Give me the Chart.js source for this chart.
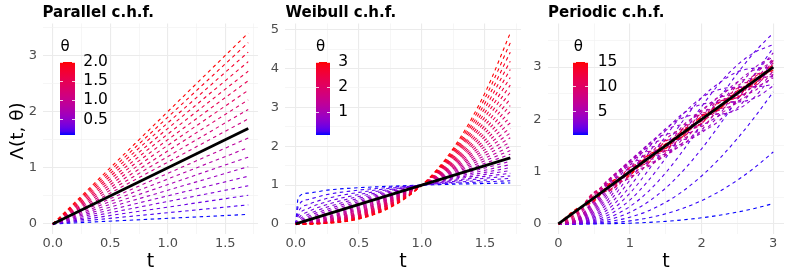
<!DOCTYPE html>
<html>
<head>
<meta charset="utf-8">
<script src="https://cdn.jsdelivr.net/npm/chart.js@4.4.1/dist/chart.umd.min.js"></script>
<style>
  body { margin: 0; background: #fff; }
  #wrap { position: relative; width: 789px; height: 273px; overflow: hidden; font-family: "DejaVu Sans", sans-serif; }
  canvas { position: absolute; top: 0; }
  .txt { position: absolute; line-height: 1; white-space: nowrap; color: #000; }
  .ttl { font-weight: bold; font-size: 15px; top: 5px; }
  .axt { font-size: 19px; top: 250.5px; transform: translateX(-50%); }
  .lgt { font-size: 15px; top: 46px; transform: translateY(-50%); }
  .lgl { font-size: 15.5px; transform: translateY(-50%); }
  .bar { position: absolute; top: 62px; height: 73px; width: 14.5px; }
  .tk { position: absolute; height: 1px; width: 3px; background: #fff; opacity: 0.8; }
</style>
</head>
<body>
<div id="wrap">
  <canvas id="c1" width="263" height="273" style="left:0px"></canvas>
  <canvas id="c2" width="263" height="273" style="left:263px"></canvas>
  <canvas id="c3" width="263" height="273" style="left:526px"></canvas>
</div>
<script>
// ---- Parallel c.h.f. : straight lines, value at t = 0 and t = 1.7
const parallelTheta = [0.1, 0.2, 0.3, 0.4, 0.5, 0.6, 0.7, 0.8, 0.9, 1.0, 1.1, 1.2, 1.3, 1.4, 1.5, 1.6, 1.7, 1.8, 1.9, 2.0];
const parallelT = [0, 1.7];
const parallelValues = [
  [0, 0.17], [0, 0.34], [0, 0.51], [0, 0.68], [0, 0.85], [0, 1.02], [0, 1.19], [0, 1.36], [0, 1.53], [0, 1.70],
  [0, 1.87], [0, 2.04], [0, 2.21], [0, 2.38], [0, 2.55], [0, 2.72], [0, 2.89], [0, 3.06], [0, 3.23], [0, 3.40]
];
const parallelRefT = [0, 1.7];
const parallelRef = [0, 1.7];

// ---- Weibull c.h.f.
const weibullTheta = [0.1, 0.2, 0.3, 0.4, 0.5, 0.6, 0.7, 0.8, 0.9, 1.0, 1.1, 1.2, 1.3, 1.4, 1.5,
                      1.6, 1.7, 1.8, 1.9, 2.0, 2.1, 2.2, 2.3, 2.4, 2.5, 2.6, 2.7, 2.8, 2.9, 3.0];
const weibullT = [0, 0.02, 0.1, 0.25, 0.5, 0.75, 1, 1.25, 1.5, 1.7];
const weibullValues = [
  [0, 0.676, 0.794, 0.871, 0.933, 0.972, 1, 1.023, 1.041, 1.055],
  [0, 0.457, 0.631, 0.758, 0.871, 0.944, 1, 1.046, 1.084, 1.112],
  [0, 0.309, 0.501, 0.660, 0.812, 0.917, 1, 1.069, 1.129, 1.172],
  [0, 0.209, 0.398, 0.574, 0.758, 0.891, 1, 1.093, 1.176, 1.236],
  [0, 0.141, 0.316, 0.500, 0.707, 0.866, 1, 1.118, 1.225, 1.304],
  [0, 0.096, 0.251, 0.435, 0.660, 0.841, 1, 1.143, 1.275, 1.375],
  [0, 0.065, 0.200, 0.379, 0.616, 0.818, 1, 1.169, 1.328, 1.450],
  [0, 0.044, 0.158, 0.330, 0.574, 0.794, 1, 1.195, 1.383, 1.529],
  [0, 0.030, 0.126, 0.287, 0.536, 0.772, 1, 1.222, 1.440, 1.612],
  [0, 0.020, 0.100, 0.250, 0.500, 0.750, 1, 1.250, 1.500, 1.700],
  [0, 0.014, 0.079, 0.218, 0.467, 0.729, 1, 1.278, 1.562, 1.793],
  [0, 0.009, 0.063, 0.189, 0.435, 0.708, 1, 1.307, 1.627, 1.890],
  [0, 0.006, 0.050, 0.165, 0.406, 0.688, 1, 1.337, 1.694, 1.993],
  [0, 0.004, 0.040, 0.144, 0.379, 0.668, 1, 1.367, 1.764, 2.102],
  [0, 0.003, 0.032, 0.125, 0.354, 0.650, 1, 1.398, 1.837, 2.217],
  [0, 0.002, 0.025, 0.109, 0.330, 0.631, 1, 1.429, 1.913, 2.337],
  [0, 0.001, 0.020, 0.095, 0.308, 0.613, 1, 1.461, 1.992, 2.465],
  [0, 0.001, 0.016, 0.082, 0.287, 0.596, 1, 1.494, 2.074, 2.599],
  [0, 0.001, 0.013, 0.072, 0.268, 0.579, 1, 1.528, 2.160, 2.741],
  [0, 0.000, 0.010, 0.063, 0.250, 0.563, 1, 1.563, 2.250, 2.890],
  [0, 0.000, 0.008, 0.054, 0.233, 0.547, 1, 1.598, 2.343, 3.048],
  [0, 0.000, 0.006, 0.047, 0.218, 0.531, 1, 1.634, 2.440, 3.214],
  [0, 0.000, 0.005, 0.041, 0.203, 0.516, 1, 1.670, 2.541, 3.389],
  [0, 0.000, 0.004, 0.036, 0.189, 0.501, 1, 1.708, 2.646, 3.574],
  [0, 0.000, 0.003, 0.031, 0.177, 0.487, 1, 1.747, 2.756, 3.768],
  [0, 0.000, 0.003, 0.027, 0.165, 0.473, 1, 1.786, 2.870, 3.974],
  [0, 0.000, 0.002, 0.024, 0.154, 0.460, 1, 1.826, 2.988, 4.190],
  [0, 0.000, 0.002, 0.021, 0.144, 0.447, 1, 1.867, 3.112, 4.419],
  [0, 0.000, 0.001, 0.018, 0.134, 0.434, 1, 1.909, 3.241, 4.660],
  [0, 0.000, 0.001, 0.016, 0.125, 0.422, 1, 1.953, 3.375, 4.913]
];
const weibullRefT = [0, 1.7];
const weibullRef = [0, 1.7];

// ---- Periodic c.h.f.
const periodicTheta = [0.3, 0.6, 0.9, 1.2, 1.5, 1.8, 2.1, 2.4, 2.7, 3.0, 3.3, 3.6, 3.9, 4.2, 4.5, 4.8, 5.1, 5.4, 5.7, 6.0,
                       6.9, 7.8, 8.7, 9.6, 10.5, 11.4, 12.3, 13.2, 14.1, 15.0];
const periodicT = [0, 0.25, 0.5, 0.75, 1, 1.25, 1.5, 1.75, 2, 2.25, 2.5, 2.75, 3];
const periodicValues = [
  [0, 0.0002, 0.0019, 0.0063, 0.0149, 0.0291, 0.0501, 0.0793, 0.1179, 0.1671, 0.2279, 0.3014, 0.3889],
  [0, 0.0009, 0.0075, 0.0250, 0.0589, 0.1139, 0.1944, 0.3043, 0.4466, 0.6238, 0.8375, 1.0886, 1.3769],
  [0, 0.0021, 0.0167, 0.0557, 0.1296, 0.2475, 0.4159, 0.6389, 0.9179, 1.2516, 1.6355, 2.0617, 2.5251],
  [0, 0.0037, 0.0295, 0.0972, 0.2233, 0.4188, 0.6885, 1.0307, 1.4371, 1.8939, 2.3824, 2.8815, 3.3688],
  [0, 0.0058, 0.0456, 0.1485, 0.3350, 0.6139, 0.9813, 1.4207, 1.9059, 2.4042, 2.8811, 3.3048, 3.6517],
  [0, 0.0084, 0.0648, 0.2079, 0.4590, 0.8177, 1.2626, 1.7547, 2.2458, 2.6881, 3.0431, 3.2899, 3.4293],
  [0, 0.0113, 0.0869, 0.2738, 0.5890, 1.0148, 1.5040, 1.9921, 2.4150, 2.7012, 2.9090, 2.9817, 2.9920],
  [0, 0.0147, 0.1117, 0.3442, 0.7186, 1.1912, 1.6844, 2.1132, 2.4151, 2.5720, 2.6164, 2.6202, 2.6693],
  [0, 0.0186, 0.1386, 0.4172, 0.8417, 1.3357, 1.7920, 2.1203, 2.2862, 2.3266, 2.3333, 2.4132, 2.6408],
  [0, 0.0228, 0.1675, 0.4906, 0.9530, 1.4405, 1.8258, 2.0363, 2.0931, 2.1000, 2.1873, 2.4426, 2.8626],
  [0, 0.0274, 0.1979, 0.5623, 1.0478, 1.5022, 1.7945, 1.8975, 1.9056, 2.0745, 2.2205, 2.6461, 3.1386],
  [0, 0.0324, 0.2295, 0.6313, 1.1229, 1.5215, 1.7147, 1.7453, 1.7795, 1.9806, 2.3855, 2.8771, 3.2725],
  [0, 0.0377, 0.2618, 0.6949, 1.1764, 1.5030, 1.6076, 1.6178, 1.7440, 2.0949, 2.5819, 2.9971, 3.1954],
  [0, 0.0435, 0.2945, 0.7520, 1.2075, 1.4545, 1.4960, 1.5415, 1.7965, 2.2560, 2.7094, 2.9524, 2.9920],
  [0, 0.0495, 0.3271, 0.8014, 1.2172, 1.3859, 1.4000, 1.5278, 1.9084, 2.3932, 2.7151, 2.7923, 2.8214],
  [0, 0.0558, 0.3593, 0.8422, 1.2075, 1.3082, 1.3346, 1.5720, 2.0363, 2.4544, 2.6118, 2.6267, 2.7988],
  [0, 0.0624, 0.3906, 0.8738, 1.1815, 1.2320, 1.3080, 1.6560, 2.1372, 2.4240, 2.4642, 2.5552, 2.9222],
  [0, 0.0693, 0.4209, 0.8960, 1.1431, 1.1667, 1.3204, 1.7547, 2.1816, 2.3249, 2.3511, 2.6099, 3.0875],
  [0, 0.0764, 0.4496, 0.9089, 1.0966, 1.1191, 1.3654, 1.8417, 2.1613, 2.2051, 2.3257, 2.7442, 3.1726],
  [0, 0.0837, 0.4765, 0.9129, 1.0466, 1.0937, 1.4313, 1.8966, 2.0894, 2.1160, 2.3916, 2.8686, 3.1252],
  [0, 0.1068, 0.5441, 0.8797, 0.9162, 1.1461, 1.6158, 1.8184, 1.8632, 2.2236, 2.6449, 2.7319, 2.8607],
  [0, 0.1309, 0.5882, 0.8038, 0.8720, 1.2910, 1.5977, 1.6367, 1.9862, 2.3736, 2.4224, 2.6840, 3.1265],
  [0, 0.1554, 0.6075, 0.7225, 0.9238, 1.3641, 1.4466, 1.6967, 2.1141, 2.1737, 2.4725, 2.8575, 2.9054],
  [0, 0.1797, 0.6038, 0.6673, 1.0181, 1.3059, 1.3994, 1.8425, 1.9643, 2.2103, 2.5944, 2.6506, 3.0523],
  [0, 0.2030, 0.5818, 0.6548, 1.0838, 1.1995, 1.5040, 1.7935, 1.9203, 2.3450, 2.4144, 2.8038, 2.9920],
  [0, 0.2248, 0.5483, 0.6827, 1.0806, 1.1628, 1.5863, 1.6718, 2.0635, 2.2067, 2.5196, 2.7558, 2.9693],
  [0, 0.2446, 0.5108, 0.7339, 1.0214, 1.2234, 1.5316, 1.7134, 2.0413, 2.2041, 2.5502, 2.6956, 3.0583],
  [0, 0.2620, 0.4764, 0.7847, 0.9552, 1.3039, 1.4383, 1.8178, 1.9277, 2.3249, 2.4242, 2.8246, 2.9283],
  [0, 0.2765, 0.4508, 0.8148, 0.9291, 1.3167, 1.4471, 1.7813, 1.9948, 2.2284, 2.5452, 2.6876, 3.0705],
  [0, 0.2881, 0.4375, 0.8145, 0.9567, 1.2566, 1.5325, 1.6901, 2.0659, 2.2018, 2.5132, 2.7765, 2.9433]
];
const periodicRefT = [0, 3];
const periodicRef = [0, 3];

// ---- axis ticks and labels
const xMajorA = [0, 0.5, 1, 1.5];
const xMinorA = [0.25, 0.75, 1.25, 1.75];
const xLabelsA = ["0.0", "0.5", "1.0", "1.5"];
const xMajorC = [0, 1, 2, 3];
const xMinorC = [0.5, 1.5, 2.5];
const xLabelsC = ["0", "1", "2", "3"];
const yMajorParallel = [0, 1, 2, 3];
const yMinorParallel = [0.5, 1.5, 2.5, 3.5];
const yMajorWeibull = [0, 1, 2, 3, 4, 5];
const yMinorWeibull = [0.5, 1.5, 2.5, 3.5, 4.5];
const yMajorPeriodic = [0, 1, 2, 3];
const yMinorPeriodic = [0.5, 1.5, 2.5, 3.5];

// ---- legend (colour bar) labels
const parallelLegend = [0.5, 1.0, 1.5, 2.0];
const parallelLegendText = ["0.5", "1.0", "1.5", "2.0"];
const weibullLegend = [1, 2, 3];
const weibullLegendText = ["1", "2", "3"];
const periodicLegend = [5, 10, 15];
const periodicLegendText = ["5", "10", "15"];

// blue -> red gradient, interpolated in CIE Lab like ggplot's colour scale
function toLinear(c) { c /= 255; return c <= 0.04045 ? c / 12.92 : Math.pow((c + 0.055) / 1.055, 2.4); }
function toGamma(c) { c = c <= 0.0031308 ? 12.92 * c : 1.055 * Math.pow(c, 1 / 2.4) - 0.055; return Math.round(Math.min(1, Math.max(0, c)) * 255); }
function rgbToLab(rgb) {
  const [r, g, b] = rgb.map(toLinear);
  const X = (0.4124 * r + 0.3576 * g + 0.1805 * b) / 0.95047;
  const Y = 0.2126 * r + 0.7152 * g + 0.0722 * b;
  const Z = (0.0193 * r + 0.1192 * g + 0.9505 * b) / 1.08883;
  const f = t => t > 0.008856 ? Math.cbrt(t) : 7.787 * t + 16 / 116;
  return [116 * f(Y) - 16, 500 * (f(X) - f(Y)), 200 * (f(Y) - f(Z))];
}
function labToRgb(lab) {
  const fy = (lab[0] + 16) / 116, fx = fy + lab[1] / 500, fz = fy - lab[2] / 200;
  const inv = t => t * t * t > 0.008856 ? t * t * t : (t - 16 / 116) / 7.787;
  const X = 0.95047 * inv(fx), Y = inv(fy), Z = 1.08883 * inv(fz);
  return [
    toGamma(3.2406 * X - 1.5372 * Y - 0.4986 * Z),
    toGamma(-0.9689 * X + 1.8758 * Y + 0.0415 * Z),
    toGamma(0.0557 * X - 0.2040 * Y + 1.0570 * Z)
  ];
}
const labLow = rgbToLab([0, 0, 255]);
const labHigh = rgbToLab([255, 0, 0]);
function gradColor(f) {
  const c = labToRgb(labLow.map((v, i) => v + (labHigh[i] - v) * f));
  return `rgb(${c[0]},${c[1]},${c[2]})`;
}

function expand(lo, hi) { const d = (hi - lo) * 0.05; return [lo - d, hi + d]; }

function axis(major, minor, labels, fit) {
  const all = major.concat(minor).sort((a, b) => a - b);
  const isMajor = v => major.some(m => Math.abs(m - v) < 1e-9);
  return {
    type: 'linear',
    border: { display: false },
    grid: {
      drawTicks: false,
      color: c => isMajor(c.tick.value) ? '#EBEBEB' : '#F2F2F2',
      lineWidth: c => isMajor(c.tick.value) ? 1.1 : 0.7
    },
    ticks: {
      autoSkip: false, maxRotation: 0, includeBounds: false,
      color: '#4D4D4D', font: { family: 'DejaVu Sans', size: 13 },
      callback: v => { const i = major.findIndex(m => Math.abs(m - v) < 1e-9); return i < 0 ? '' : labels[i]; }
    },
    afterBuildTicks: s => { s.ticks = all.map(v => ({ value: v })); },
    afterFit: fit
  };
}

function panel(cfg) {
  const tMin = cfg.theta[0], tMax = cfg.theta[cfg.theta.length - 1];
  const datasets = [{
    data: cfg.refT.map((t, i) => ({ x: t, y: cfg.ref[i] })),
    borderColor: '#000', borderWidth: 2.8, order: 0
  }];
  cfg.theta.forEach((th, k) => {
    datasets.push({
      data: cfg.t.map((t, i) => ({ x: t, y: cfg.rows[k][i] })),
      borderColor: gradColor((th - tMin) / (tMax - tMin)),
      borderWidth: 1.1,
      borderDash: [3.5, 3.5],
      cubicInterpolationMode: cfg.smooth ? 'monotone' : 'default',
      order: cfg.theta.length - k
    });
  });
  const allY = cfg.rows.flat().concat(cfg.ref);
  const [xMin, xMax] = expand(cfg.t[0], cfg.t[cfg.t.length - 1]);
  const [yMin, yMax] = expand(Math.min(...allY), Math.max(...allY));

  const xAxis = axis(cfg.xMajor, cfg.xMinor, cfg.xLabels, s => { s.height = 39.5; });
  xAxis.min = xMin; xAxis.max = xMax; xAxis.ticks.padding = 2;
  const yAxis = axis(cfg.yMajor, cfg.yMinor, cfg.yMajor.map(String), s => { s.width = cfg.yWidth; });
  yAxis.min = yMin; yAxis.max = yMax; yAxis.ticks.padding = 6;

  new Chart(document.getElementById(cfg.id), {
    type: 'line',
    data: { datasets },
    options: {
      responsive: false, animation: false, devicePixelRatio: 1,
      layout: { padding: { left: 0, right: 5, top: 23.5, bottom: 0 } },
      elements: { point: { radius: 0 }, line: { fill: false, tension: 0 } },
      plugins: { legend: { display: false }, tooltip: { enabled: false } },
      scales: { x: xAxis, y: yAxis }
    }
  });
}

panel({ id: 'c1', theta: parallelTheta, t: parallelT, rows: parallelValues, refT: parallelRefT, ref: parallelRef,
        xMajor: xMajorA, xMinor: xMinorA, xLabels: xLabelsA, yMajor: yMajorParallel, yMinor: yMinorParallel, yWidth: 43 });
panel({ id: 'c2', theta: weibullTheta, t: weibullT, rows: weibullValues, refT: weibullRefT, ref: weibullRef, smooth: true,
        xMajor: xMajorA, xMinor: xMinorA, xLabels: xLabelsA, yMajor: yMajorWeibull, yMinor: yMinorWeibull, yWidth: 22 });
panel({ id: 'c3', theta: periodicTheta, t: periodicT, rows: periodicValues, refT: periodicRefT, ref: periodicRef, smooth: true,
        xMajor: xMajorC, xMinor: xMinorC, xLabels: xLabelsC, yMajor: yMajorPeriodic, yMinor: yMinorPeriodic, yWidth: 21.6 });

// ---- text and colour bars drawn as HTML on top of the canvases
const wrap = document.getElementById('wrap');
function addText(cls, text, left, top, extra) {
  const d = document.createElement('div');
  d.className = 'txt ' + cls;
  d.textContent = text;
  d.style.left = left + 'px';
  if (top !== null) d.style.top = top + 'px';
  if (extra) Object.assign(d.style, extra);
  wrap.appendChild(d);
}
addText('ttl', 'Parallel c.h.f.', 42.5, null);
addText('ttl', 'Weibull c.h.f.', 285.5, null);
addText('ttl', 'Periodic c.h.f.', 548, null);
addText('axt', 't', 150.5, null);
addText('axt', 't', 403, null);
addText('axt', 't', 666, null);
addText('', 'Λ(t, θ)', 16.5, 130.5, { fontSize: '18.5px', transform: 'translate(-50%,-50%) rotate(-90deg)' });

function colourBar(left, labelLeft, theta, values, texts) {
  const tMin = theta[0], tMax = theta[theta.length - 1];
  const stops = [];
  for (let i = 0; i <= 20; i++) stops.push(gradColor(i / 20) + ' ' + (i * 5) + '%');
  const bar = document.createElement('div');
  bar.className = 'bar';
  bar.style.left = left + 'px';
  bar.style.background = 'linear-gradient(to top, ' + stops.join(', ') + ')';
  wrap.appendChild(bar);
  addText('lgt', 'θ', left + 0.5, null);
  values.forEach((v, i) => {
    const y = 62 + (tMax - v) / (tMax - tMin) * 73;
    addText('lgl', texts[i], labelLeft, y);
    [left, left + 11.5].forEach(x => {
      const tk = document.createElement('div');
      tk.className = 'tk';
      tk.style.left = x + 'px';
      tk.style.top = (y - 0.5) + 'px';
      wrap.appendChild(tk);
    });
  });
}
colourBar(60, 83.3, parallelTheta, parallelLegend, parallelLegendText);
colourBar(315.5, 338.3, weibullTheta, weibullLegend, weibullLegendText);
colourBar(573.3, 597.7, periodicTheta, periodicLegend, periodicLegendText);
</script>
</body>
</html>
